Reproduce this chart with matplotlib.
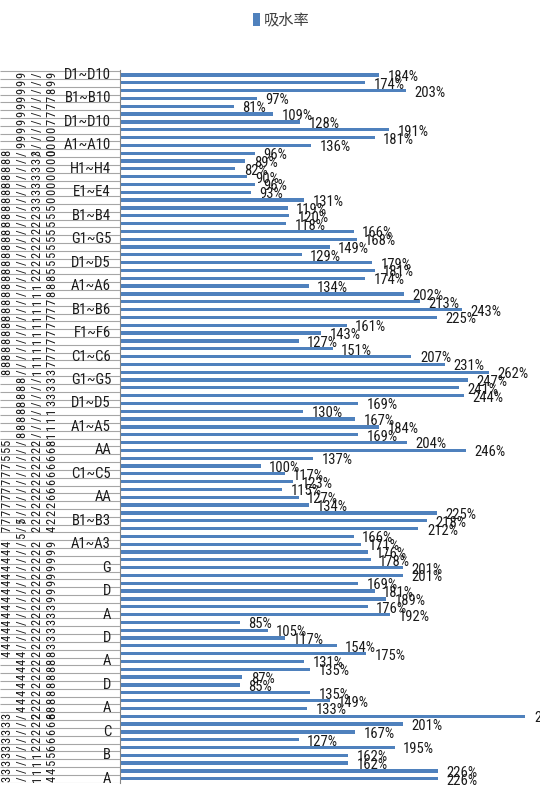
import numpy as np
import matplotlib
matplotlib.use('Agg')
import matplotlib.pyplot as plt
from matplotlib import font_manager

# 吸水率 (%) - categories listed top to bottom as they appear
rates = [184, 174, 203, 97, 81, 109, 128, 191, 181, 136,
         96, 89, 82, 90, 96, 93, 131, 119, 120, 118,
         166, 168, 149, 129, 179, 181, 174, 134, 202, 213,
         243, 225, 161, 143, 127, 151, 207, 231, 262, 247,
         241, 244, 169, 130, 167, 184, 169, 204, 246, 137,
         100, 117, 123, 115, 127, 134, 225, 218, 212, 166,
         171, 176, 178, 201, 201, 169, 181, 189, 176, 192,
         85, 105, 117, 154, 175, 131, 135, 87, 85, 135,
         149, 133, 288, 201, 167, 127, 195, 162, 162, 226, 226]

# inner level of the category axis, only every 3rd label shown
inner_labels = ['D1~D10', 'B1~B10', 'D1~D10', 'A1~A10', 'H1~H4', 'E1~E4',
                'B1~B4', 'G1~G5', 'D1~D5', 'A1~A6', 'B1~B6', 'F1~F6',
                'C1~C6', 'G1~G5', 'D1~D5', 'A1~A5', 'AA', 'C1~C5', 'AA',
                'B1~B3', 'A1~A3', 'G', 'D', 'A', 'D', 'A', 'D', 'A',
                'C', 'B', 'A']
inner_step = 3

# outer levels (rotated date labels, squeezed together)
# (first category, last category, column, text from bottom to top)
outer_cols = [
    (0, 9, 1, '9999999999'),
    (0, 10, 2, '///////////'),
    (0, 10, 3, '00007777899'),
    (10, 38, 0, '8' * 29),
    (10, 38, 1, '/' * 29),
    (10, 38, 2, '1' * 12 + '2' * 9 + '3' * 8),
    (10, 38, 3, '3' + '7' * 9 + '888' + '5' * 9 + '0' * 7),
    (39, 46, 1, '8' * 8),
    (39, 46, 2, '/' * 8),
    (39, 46, 3, '11113333'),
    (47, 58, 0, '7' * 9 + '555'),
    (47, 58, 1, '/' * 12),
    (47, 58, 2, '2' * 12),
    (47, 58, 3, '4222' + '6' * 7 + '8'),
    (57, 59, 1, '55'),
    (60, 74, 0, '4' * 15),
    (60, 73, 1, '/' * 14),
    (60, 82, 2, '2' * 23),
    (60, 82, 3, '8' * 9 + '3' * 6 + '9' * 8),
    (74, 81, 1, '4' * 8),
    (82, 90, 0, '3' * 9),
    (82, 90, 1, '/' * 9),
    (82, 90, 2, '1111' + '2' * 5),
    (82, 90, 3, '4455' + '6' * 5),
]

# 좁은 글꼴 찾기 (없으면 DejaVu Sans)
names = {f.name for f in font_manager.fontManager.ttflist}
narrow_names = [n for n in ['Liberation Sans Narrow', 'DejaVu Sans Condensed',
                            'Arial Narrow', 'Roboto Condensed', 'Open Sans Condensed']
                if n in names]
narrow = narrow_names + ['DejaVu Sans']
stretch = 'condensed'
cjk = ['Noto Sans CJK SC', 'DejaVu Sans']
bar_color = '#4F81BD'
grid_color = '#a6a6a6'

W, H = 540, 791
fig = plt.figure(figsize=(W / 100, H / 100), dpi=100)
fig.set_facecolor('white')

n = len(rates)
y = np.arange(n)
ylim = (90.54, -0.64)
bottom = (H - 783) / H
height = (783 - 70) / H

# 막대 차트
ax = fig.add_axes([120 / W, bottom, 420 / W, height])
bars = ax.barh(y, rates, height=0.42, color=bar_color)
ax.set_xlim(0, 298.3)
ax.set_ylim(*ylim)
for s in ['top', 'right', 'bottom']:
    ax.spines[s].set_visible(False)
ax.spines['left'].set_color('#868686')
ax.spines['left'].set_linewidth(0.8)
ax.set_xticks([])
ax.set_yticks([])
ax.patch.set_alpha(0)

# data labels
for k, v in enumerate(rates):
    ax.text(v + 6.0, k + 0.25, f'{v}%', ha='left', va='center',
            fontsize=10.5, family=narrow, fontstretch=stretch,
            color='#1a1a1a', clip_on=False)

# category axis area
lab = fig.add_axes([0, bottom, 120 / W, height])
lab.set_xlim(0, 120)
lab.set_ylim(*ylim)
lab.axis('off')
lab.hlines(np.arange(-0.5, n), 0, 120, color=grid_color, lw=0.8)

for i, name in enumerate(inner_labels):
    lab.text(111, i * inner_step, name, ha='right', va='center',
             fontsize=10.5, family=narrow, fontstretch=stretch, color='#1a1a1a')

for k0, k1, col, txt in outer_cols:
    pos = np.linspace(k1, k0, len(txt))
    for ch, p in zip(txt, pos):
        lab.text(7 + 15 * col, p, ch, rotation=90, ha='center', va='center',
                 fontsize=9, family=narrow, fontstretch=stretch, color='#1a1a1a')

# legend
fig.legend([bars], ['吸水率'], loc='center', bbox_to_anchor=(281 / W, 1 - 20 / H),
           frameon=False, handlelength=0.5, handleheight=0.9, handletextpad=0.2,
           prop={'family': cjk, 'size': 11}, labelcolor='#404040')

fig.savefig('out.png', dpi=100)
plt.close(fig)
